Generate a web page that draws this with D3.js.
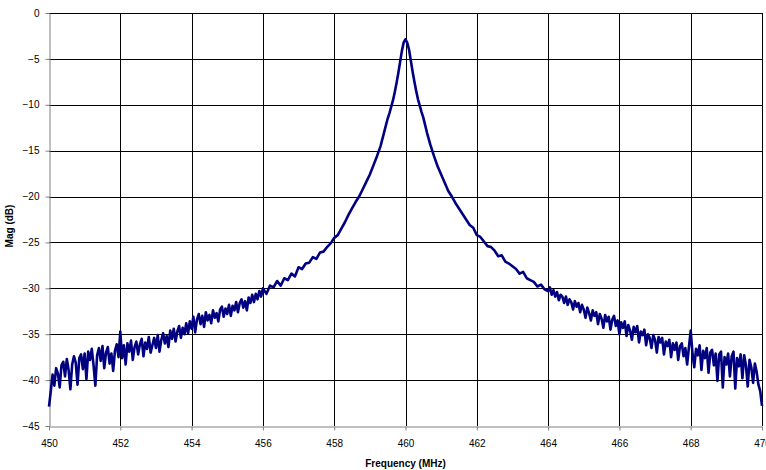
<!DOCTYPE html>
<html>
<head>
<meta charset="utf-8">
<script src="https://cdn.jsdelivr.net/npm/d3@7"></script>
<style>
  body { margin: 0; background: #fff; }
  svg { font-family: "Liberation Sans", Arial, sans-serif; }
</style>
</head>
<body>
<div class="chart"></div>
<script>

// frequency samples (MHz)
var freq = [
    450.00, 450.05, 450.10, 450.15, 450.20, 450.25, 450.30, 450.35, 450.40, 450.45,
    450.50, 450.55, 450.60, 450.65, 450.70, 450.75, 450.80, 450.85, 450.90, 450.95,
    451.00, 451.05, 451.10, 451.15, 451.20, 451.25, 451.30, 451.35, 451.40, 451.45,
    451.50, 451.55, 451.60, 451.65, 451.70, 451.75, 451.80, 451.85, 451.90, 451.95,
    452.00, 452.05, 452.10, 452.15, 452.20, 452.25, 452.30, 452.35, 452.40, 452.45,
    452.50, 452.55, 452.60, 452.65, 452.70, 452.75, 452.80, 452.85, 452.90, 452.95,
    453.00, 453.05, 453.10, 453.15, 453.20, 453.25, 453.30, 453.35, 453.40, 453.45,
    453.50, 453.55, 453.60, 453.65, 453.70, 453.75, 453.80, 453.85, 453.90, 453.95,
    454.00, 454.05, 454.10, 454.15, 454.20, 454.25, 454.30, 454.35, 454.40, 454.45,
    454.50, 454.55, 454.60, 454.65, 454.70, 454.75, 454.80, 454.85, 454.90, 454.95,
    455.00, 455.05, 455.10, 455.15, 455.20, 455.25, 455.30, 455.35, 455.40, 455.45,
    455.50, 455.55, 455.60, 455.65, 455.70, 455.75, 455.80, 455.85, 455.90, 455.95,
    456.0, 456.1, 456.2, 456.3, 456.4, 456.5, 456.6, 456.7, 456.8, 456.9,
    457.0, 457.1, 457.2, 457.3, 457.4, 457.5, 457.6, 457.7, 457.8, 457.9,
    458.0, 458.1, 458.2, 458.3, 458.4, 458.5, 458.6, 458.7, 458.8, 458.9,
    459.0, 459.1, 459.2, 459.3, 459.4, 459.5,
    459.55, 459.60, 459.65, 459.70, 459.75, 459.80, 459.85, 459.90, 459.95, 460.00,
    460.05, 460.10, 460.15, 460.20, 460.25, 460.30, 460.35, 460.40, 460.45,
    460.5, 460.6, 460.7, 460.8, 460.9, 461.0, 461.1, 461.2, 461.3, 461.4,
    461.5, 461.6, 461.7, 461.8, 461.9, 462.0, 462.1, 462.2, 462.3, 462.4,
    462.5, 462.6, 462.7, 462.8, 462.9, 463.0, 463.1, 463.2, 463.3, 463.4,
    463.5, 463.6, 463.7, 463.8, 463.9,
    464.00, 464.05, 464.10, 464.15, 464.20, 464.25, 464.30, 464.35, 464.40, 464.45,
    464.50, 464.55, 464.60, 464.65, 464.70, 464.75, 464.80, 464.85, 464.90, 464.95,
    465.00, 465.05, 465.10, 465.15, 465.20, 465.25, 465.30, 465.35, 465.40, 465.45,
    465.50, 465.55, 465.60, 465.65, 465.70, 465.75, 465.80, 465.85, 465.90, 465.95,
    466.00, 466.05, 466.10, 466.15, 466.20, 466.25, 466.30, 466.35, 466.40, 466.45,
    466.50, 466.55, 466.60, 466.65, 466.70, 466.75, 466.80, 466.85, 466.90, 466.95,
    467.00, 467.05, 467.10, 467.15, 467.20, 467.25, 467.30, 467.35, 467.40, 467.45,
    467.50, 467.55, 467.60, 467.65, 467.70, 467.75, 467.80, 467.85, 467.90, 467.95,
    468.00, 468.05, 468.10, 468.15, 468.20, 468.25, 468.30, 468.35, 468.40, 468.45,
    468.50, 468.55, 468.60, 468.65, 468.70, 468.75, 468.80, 468.85, 468.90, 468.95,
    469.00, 469.05, 469.10, 469.15, 469.20, 469.25, 469.30, 469.35, 469.40, 469.45,
    469.50, 469.55, 469.60, 469.65, 469.70, 469.75, 469.80, 469.85, 469.90, 469.95,
    470.00
];

// magnitude (dB) at each frequency
var mag = [
    -42.9, -41.2, -39.4, -40.6, -38.7, -39.3, -40.8, -38.4, -38.0, -39.6,
    -37.7, -38.9, -41.0, -38.3, -37.4, -38.1, -40.5, -37.6, -37.2, -38.8,
    -37.1, -39.9, -36.9, -37.8, -36.6, -38.4, -40.6, -37.3, -36.5, -37.9,
    -36.3, -38.7, -37.0, -36.4, -38.2, -37.1, -39.0, -36.8, -36.1, -37.5,
    -34.7, -37.6, -36.2, -38.3, -36.0, -36.9, -35.7, -37.8, -36.4, -35.8,
    -37.2, -36.1, -35.5, -37.4, -35.9, -36.6, -35.3, -37.0, -36.2, -35.4,
    -36.5, -35.1, -36.9, -35.6, -34.9, -36.0, -35.2, -36.4, -34.6, -35.5,
    -34.4, -35.8, -34.7, -34.1, -35.4, -34.3, -35.0, -33.8, -34.9, -33.6,
    -34.4, -33.1, -34.8, -33.4, -32.8, -33.9, -33.0, -34.2, -32.6, -33.5,
    -32.9, -33.8, -32.4, -33.2, -32.7, -33.6, -32.3, -32.0, -33.1, -32.2,
    -32.8, -31.8, -33.0, -31.9, -32.4, -31.5, -32.6, -31.6, -31.2, -32.1,
    -31.4, -32.4, -31.0, -31.6, -30.7, -31.5, -30.6, -31.2, -30.3, -30.9,
    -30.0, -30.6, -29.7, -29.9, -29.2, -29.7, -28.9, -29.1, -28.4, -28.7,
    -27.7, -27.9, -27.3, -27.2, -26.6, -26.8, -26.1, -26.0, -25.5, -25.1,
    -24.5, -24.2, -23.5, -22.8, -22.0, -21.3, -20.6, -20.0, -19.2, -18.4,
    -17.6, -16.6, -15.6, -14.5, -13.0, -11.5,
    -10.9, -10.2, -9.5, -8.6, -7.6, -6.5, -5.3, -4.1, -3.2, -2.86,
    -3.25, -4.0, -5.2, -6.4, -7.5, -8.5, -9.4, -10.1, -10.8,
    -11.4, -13.0, -14.4, -15.6, -16.7, -17.6, -18.5, -19.4, -20.0, -20.7,
    -21.3, -21.9, -22.5, -23.1, -23.4, -24.2, -24.4, -24.9, -25.4, -25.5,
    -25.9, -26.5, -26.4, -27.1, -27.3, -27.6, -27.9, -28.4, -28.2, -28.9,
    -29.1, -29.3, -29.8, -29.6, -30.1,
    -30.3, -29.9, -30.7, -30.2, -30.9, -30.4, -31.3, -30.7, -30.9, -31.6,
    -30.9, -31.8, -31.2, -31.5, -32.3, -31.4, -32.0, -31.6, -32.6, -31.8,
    -32.3, -33.2, -32.1, -32.7, -33.5, -32.4, -33.0, -32.6, -33.9, -32.8,
    -33.3, -34.3, -32.9, -33.6, -33.1, -34.5, -33.4, -33.0, -34.1, -33.5,
    -35.0, -33.7, -34.3, -33.6, -35.2, -34.0, -34.6, -35.6, -34.2, -34.8,
    -34.1, -35.9, -34.7, -35.1, -34.5, -36.2, -35.0, -35.4, -36.5, -35.1,
    -35.6, -37.0, -35.3, -35.9, -35.4, -37.2, -35.8, -36.3, -35.6, -37.5,
    -36.0, -36.7, -35.9, -37.8, -36.3, -36.0, -37.4, -36.5, -38.3, -36.4,
    -34.6, -37.1, -38.6, -36.6, -37.3, -36.2, -38.9, -36.8, -37.6, -36.5,
    -39.2, -37.0, -36.7, -38.4, -37.1, -40.1, -37.2, -36.9, -40.8, -37.5,
    -38.3, -37.1, -39.6, -37.4, -36.9, -40.9, -37.6, -38.5, -37.2, -39.8,
    -37.3, -38.4, -40.7, -37.8, -38.6, -40.3, -38.2, -39.1, -40.5, -41.2,
    -42.8
];

var xTicks = [450, 452, 454, 456, 458, 460, 462, 464, 466, 468, 470];
var yTicks = [0, -5, -10, -15, -20, -25, -30, -35, -40, -45];

var width = 766;
var height = 470;
var margin = { top: 13, right: 4, bottom: 44, left: 49 };
var innerW = width - margin.left - margin.right;
var innerH = height - margin.top - margin.bottom;

var points = freq.map((f, i) => ({ f: f, m: mag[i] }));

var svg = d3.select('.chart')
    .append('svg')
    .attr('width', width)
    .attr('height', height);

var g = svg.append('g')
    .attr('transform', 'translate(' + margin.left + ',' + margin.top + ')');

var scaleX = d3.scaleLinear()
    .domain([450, 470])
    .range([0, innerW]);

var scaleY = d3.scaleLinear()
    .domain([-45, 0])
    .range([innerH, 0]);

// grid
g.append('g')
    .selectAll('line')
    .data(xTicks.slice(1))
    .enter()
    .append('line')
    .attr('x1', d => Math.round(scaleX(d)) + 0.5)
    .attr('x2', d => Math.round(scaleX(d)) + 0.5)
    .attr('y1', 0)
    .attr('y2', innerH)
    .attr('stroke', '#000')
    .attr('stroke-width', 1);

g.append('g')
    .selectAll('line')
    .data(yTicks.slice(0, -1))
    .enter()
    .append('line')
    .attr('x1', 0)
    .attr('x2', innerW)
    .attr('y1', d => Math.round(scaleY(d)) + 0.5)
    .attr('y2', d => Math.round(scaleY(d)) + 0.5)
    .attr('stroke', '#000')
    .attr('stroke-width', 1);

// axes
var axisX = d3.axisBottom(scaleX)
    .tickValues(xTicks)
    .tickSize(4)
    .tickPadding(9)
    .tickSizeOuter(0);

var axisY = d3.axisLeft(scaleY)
    .tickValues(yTicks)
    .tickSize(4)
    .tickPadding(6)
    .tickSizeOuter(0)
    .tickFormat(d3.format('d'));

var gx = g.append('g')
    .attr('transform', 'translate(0,' + (Math.round(innerH) + 0.5) + ')')
    .call(axisX);

var gy = g.append('g')
    .attr('transform', 'translate(0.5,0)')
    .call(axisY);

[gx, gy].forEach(a => {
    a.select('.domain').attr('stroke', '#808080');
    a.selectAll('.tick line').attr('stroke', '#808080');
    a.selectAll('.tick text')
        .attr('fill', '#000')
        .style('font-size', '10px')
        .style('font-family', '"Liberation Sans", Arial, sans-serif');
});

// the trace
var line = d3.line()
    .x(d => scaleX(d.f))
    .y(d => scaleY(d.m));

g.append('path')
    .datum(points)
    .attr('fill', 'none')
    .attr('stroke', '#000080')
    .attr('stroke-width', 2.6)
    .attr('stroke-linejoin', 'round')
    .attr('d', line);

// titles
svg.append('text')
    .attr('x', margin.left + innerW / 2)
    .attr('y', 467)
    .style('text-anchor', 'middle')
    .style('font-size', '10px')
    .style('font-weight', 'bold')
    .text('Frequency (MHz)');

svg.append('text')
    .attr('transform', 'translate(13,226) rotate(-90)')
    .style('text-anchor', 'middle')
    .style('font-size', '10px')
    .style('font-weight', 'bold')
    .text('Mag (dB)');

</script>
</body>
</html>
